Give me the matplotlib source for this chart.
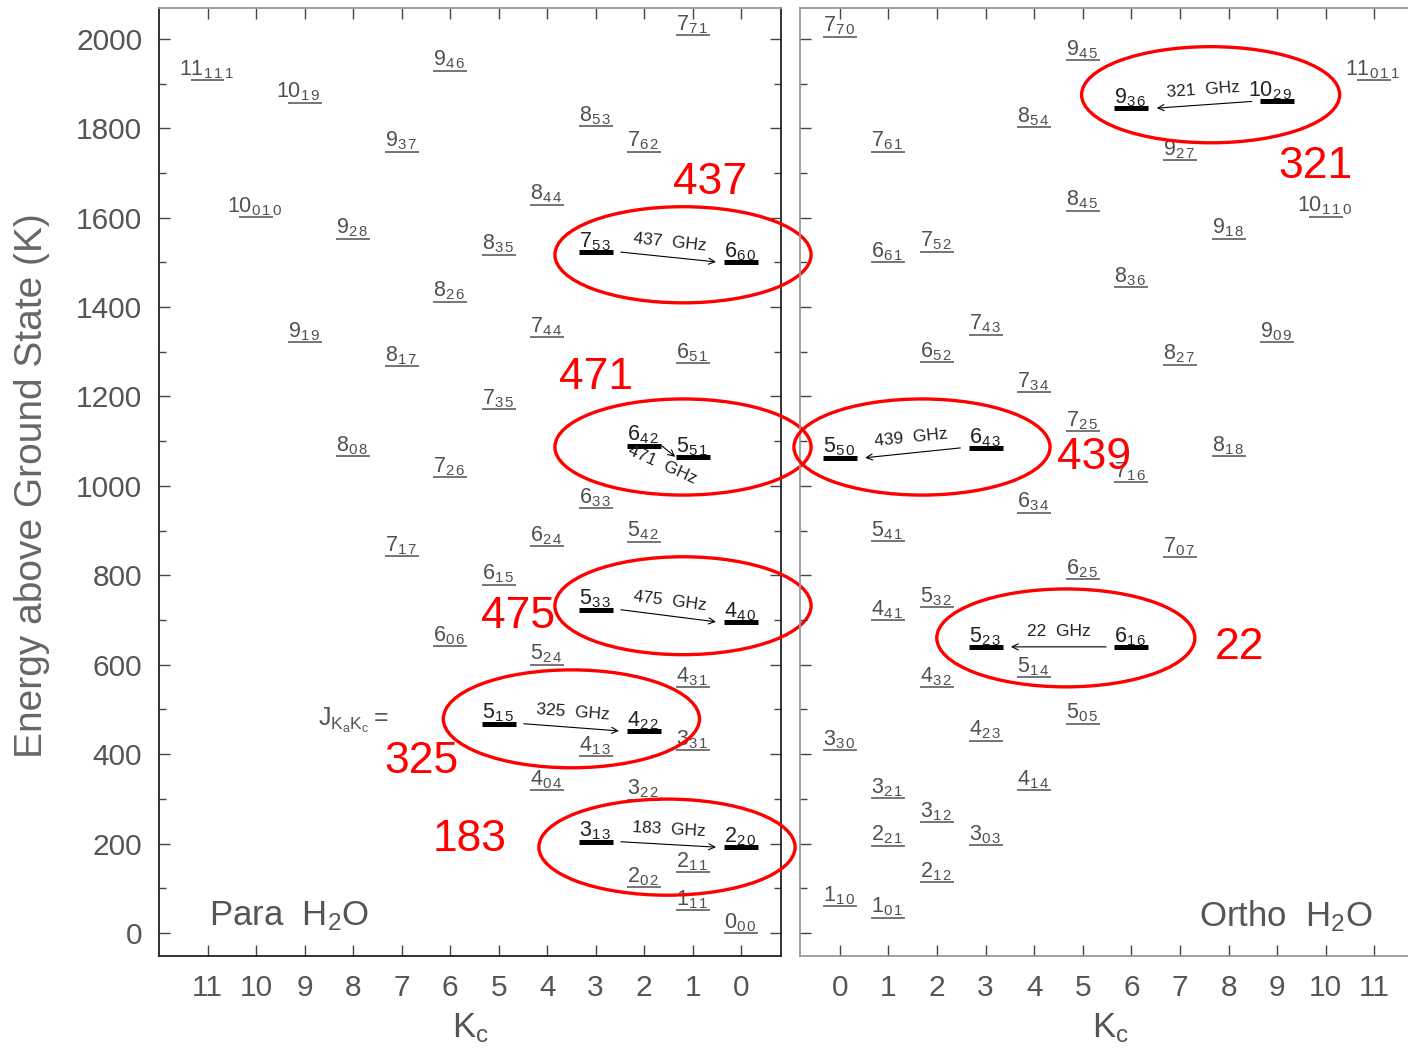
import numpy as np
import matplotlib.pyplot as plt
from matplotlib.patches import Ellipse

plt.rcParams['font.family'] = ['Liberation Sans', 'DejaVu Sans']
plt.rcParams['mathtext.fontset'] = 'custom'
plt.rcParams['mathtext.rm'] = 'Liberation Sans'
plt.rcParams['mathtext.it'] = 'Liberation Sans'

# Rotational levels (J, Ka, Kc, energy in K)
para_levels = [
    (0, 0, 0, 0), (1, 1, 1, 51), (2, 0, 2, 103), (2, 1, 1, 136), (2, 2, 0, 192),
    (3, 1, 3, 204), (3, 2, 2, 298), (3, 3, 1, 409), (4, 0, 4, 320), (4, 1, 3, 396),
    (4, 2, 2, 452), (4, 3, 1, 550), (4, 4, 0, 696), (5, 1, 5, 468), (5, 2, 4, 600),
    (5, 3, 3, 723), (5, 4, 2, 875), (5, 5, 1, 1065), (6, 0, 6, 642), (6, 1, 5, 779),
    (6, 2, 4, 866), (6, 3, 3, 951), (6, 4, 2, 1090), (6, 5, 1, 1275), (6, 6, 0, 1501),
    (7, 1, 7, 843), (7, 2, 6, 1020), (7, 3, 5, 1172), (7, 4, 4, 1333), (7, 5, 3, 1523),
    (7, 6, 2, 1748), (7, 7, 1, 2009), (8, 0, 8, 1067), (8, 1, 7, 1268), (8, 2, 6, 1412),
    (8, 3, 5, 1517), (8, 4, 4, 1629), (8, 5, 3, 1805), (9, 1, 9, 1322), (9, 2, 8, 1553),
    (9, 3, 7, 1748), (9, 4, 6, 1929), (10, 0, 10, 1601), (10, 1, 9, 1857), (11, 1, 11, 1908),
]

ortho_levels = [
    (1, 0, 1, 34), (1, 1, 0, 60), (2, 1, 2, 114), (2, 2, 1, 195), (3, 0, 3, 197),
    (3, 1, 2, 248), (3, 2, 1, 302), (3, 3, 0, 409), (4, 1, 4, 320), (4, 2, 3, 430),
    (4, 3, 2, 550), (4, 4, 1, 700), (5, 0, 5, 468), (5, 1, 4, 573), (5, 2, 3, 640),
    (5, 3, 2, 729), (5, 4, 1, 877), (5, 5, 0, 1063), (6, 1, 6, 640), (6, 2, 5, 792),
    (6, 3, 4, 940), (6, 4, 3, 1085), (6, 5, 2, 1277), (6, 6, 1, 1501), (7, 0, 7, 841),
    (7, 1, 6, 1009), (7, 2, 5, 1123), (7, 3, 4, 1210), (7, 4, 3, 1338), (7, 5, 2, 1524),
    (7, 6, 1, 1748), (7, 7, 0, 2005), (8, 1, 8, 1067), (8, 2, 7, 1271), (8, 3, 6, 1445),
    (8, 4, 5, 1616), (8, 5, 4, 1803), (9, 0, 9, 1322), (9, 1, 8, 1553), (9, 2, 7, 1728),
    (9, 3, 6, 1845), (9, 4, 5, 1953), (10, 1, 10, 1602), (10, 2, 9, 1860), (11, 0, 11, 1908),
]

# Maser / submm transitions: upper level, lower level, label
para_lines = [
    ((7, 5, 3), (6, 6, 0), '437  GHz'),
    ((6, 4, 2), (5, 5, 1), '471  GHz'),
    ((5, 3, 3), (4, 4, 0), '475  GHz'),
    ((5, 1, 5), (4, 2, 2), '325  GHz'),
    ((3, 1, 3), (2, 2, 0), '183  GHz'),
]
ortho_lines = [
    ((6, 4, 3), (5, 5, 0), '439  GHz'),
    ((6, 1, 6), (5, 2, 3), '22  GHz'),
    ((10, 2, 9), (9, 3, 6), '321  GHz'),
]

# red callouts: label, ellipse centre (Kc, E), width, height, label position
para_marks = [
    ('437', (1.2, 1517), 5.28, 215, (0.64, 1678)),
    ('471', (1.2, 1087), 5.28, 215, (2.99, 1242)),
    ('475', (1.2, 732), 5.28, 219, (4.6, 707)),
    ('325', (3.5, 479), 5.28, 219, (6.58, 383)),
    ('183', (1.53, 192), 5.28, 215, (5.59, 208)),
]
ortho_marks = [
    ('439', (1.69, 1087), 5.27, 215, (5.23, 1063)),
    ('22', (4.65, 660), 5.31, 219, (8.23, 638)),
    ('321', (7.63, 1875), 5.31, 215, (9.79, 1714)),
]

kc_ticks = np.arange(0, 12)
e_ticks = np.arange(0, 2001, 200)

HALF = 0.35
PT = 72.0 / 100.0  # points per pixel at dpi 100
LFS = 15.5          # level label size


def lvl_text(J, Ka, Kc):
    sub = r'\,'.join('%d%d' % (Ka, Kc))
    return r'$\mathregular{%d_{%s}}$' % (J, sub)


def draw_levels(ax, levels, lines):
    bold = set()
    for up, low, _ in lines:
        bold.add(up)
        bold.add(low)
    energy = {}
    for J, Ka, Kc, E in levels:
        energy[(J, Ka, Kc)] = E
        thick = (J, Ka, Kc) in bold
        ax.plot([Kc - HALF, Kc + HALF], [E, E], color='black' if thick else '#6a6a6a',
                lw=3.6 if thick else 1.3, solid_capstyle='butt', zorder=3)
        # last digit of J starts at the left end of the bar
        dx = -17 * PT - (len(str(J)) - 1) * 0.556 * LFS
        ax.annotate(lvl_text(J, Ka, Kc), xy=(Kc, E), xytext=(dx, -0.5),
                    textcoords='offset points', ha='left', va='bottom', fontsize=LFS,
                    color='#222' if thick else '#505050', zorder=4)
    return energy


def draw_lines(ax, lines, energy, special):
    for up, low, text in lines:
        k0, k1 = up[2], low[2]
        e0, e1 = energy[up], energy[low]
        s = np.sign(k1 - k0)
        opt = special.get(text, {})
        gap = opt.get('gap', 0.52)
        x0, x1 = k0 + s * gap, k1 - s * gap
        ax.annotate('', xy=(x1, e1), xytext=(x0, e0),
                    arrowprops=dict(arrowstyle='->', lw=0.8, color='black',
                                    shrinkA=0, shrinkB=0, mutation_scale=11), zorder=5)
        p0 = ax.transData.transform((x0, e0))
        p1 = ax.transData.transform((x1, e1))
        ang = np.degrees(np.arctan2(p1[1] - p0[1], p1[0] - p0[0]))
        if ang > 90:
            ang -= 180
        elif ang < -90:
            ang += 180
        ang = opt.get('rot', ang)
        dist = 15 * opt.get('side', 1)
        r = np.radians(ang)
        off = (-np.sin(r) * dist * PT, np.cos(r) * dist * PT)
        ax.annotate(text, xy=((x0 + x1) / 2, (e0 + e1) / 2), xytext=off,
                    textcoords='offset points', ha='center', va='center',
                    rotation=ang, rotation_mode='anchor', fontsize=12.5,
                    color='#222', zorder=5)


def draw_marks(ax, marks):
    for text, c, w, h, pos in marks:
        ax.add_patch(Ellipse(c, w, h, fill=False, ec='#ff0000', lw=2.4,
                             clip_on=False, zorder=10))
        ax.text(pos[0], pos[1], text, color='#ff0000', fontsize=32,
                ha='center', va='center', zorder=10, clip_on=False)


def style_axes(ax, dark, light):
    ax.set_ylim(-51.5, 2069)
    ax.set_yticks(e_ticks)
    ax.set_yticks(np.arange(0, 2001, 100), minor=True)
    ax.set_xticks(kc_ticks)
    ax.tick_params(axis='both', which='major', direction='in', length=8, width=1,
                   color='#444', labelsize=21.5, labelcolor='#555', top=True, right=True)
    ax.tick_params(axis='y', which='minor', direction='in', length=5, width=1,
                   color='#444', right=True)
    ax.tick_params(axis='x', which='major', pad=13)
    ax.tick_params(axis='y', which='major', pad=12)
    for name, sp in ax.spines.items():
        sp.set_color(light if name == 'top' else dark)
        sp.set_linewidth(1.3)
    ax.patch.set_visible(False)


fig = plt.figure(figsize=(14.08, 10.48), dpi=100)
axL = fig.add_axes([159 / 1408, 92 / 1048, 622 / 1408, 948 / 1048])
axR = fig.add_axes([800 / 1408, 92 / 1048, 623 / 1408, 948 / 1048])

axL.set_xlim(12, -0.82)
axR.set_xlim(-0.82, 12)
style_axes(axL, '#222', '#999')
style_axes(axR, '#999', '#999')
axR.tick_params(axis='y', which='both', labelleft=False)

e_para = draw_levels(axL, para_levels, para_lines)
e_ortho = draw_levels(axR, ortho_levels, ortho_lines)
draw_lines(axL, para_lines, e_para, {'471  GHz': {'gap': 0.36, 'rot': -24, 'side': -1}})
draw_lines(axR, ortho_lines, e_ortho, {})

axL.text(8.72, 476, r'$\mathregular{J_{K_aK_c}=}$', fontsize=18, color='#555',
         ha='left', va='center')

axL.text(0.209, 0.042, r'Para  H$_2$O', transform=axL.transAxes, fontsize=25,
         color='#555', ha='center', va='center')
axR.text(0.78, 0.042, r'Ortho  H$_2$O', transform=axR.transAxes, fontsize=25,
         color='#555', ha='center', va='center')

draw_marks(axL, para_marks)
draw_marks(axR, ortho_marks)

fig.text(32 / 1408, 0.537, 'Energy above Ground State (K)', rotation=90,
         fontsize=28, color='#666', ha='center', va='center')
fig.text(470 / 1408, 1 - 1028 / 1048, r'$\mathregular{K_c}$', fontsize=25,
         color='#555', ha='center', va='center')
fig.text(1110 / 1408, 1 - 1028 / 1048, r'$\mathregular{K_c}$', fontsize=25,
         color='#555', ha='center', va='center')

fig.savefig('out.png', dpi=100)
